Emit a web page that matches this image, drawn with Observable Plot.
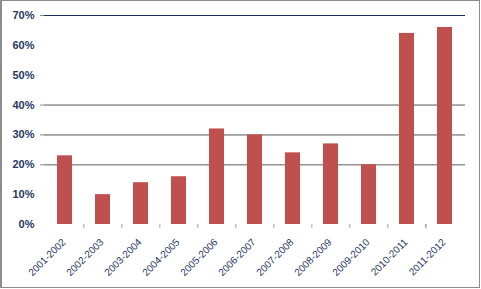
<!DOCTYPE html>
<html>
<head>
<meta charset="utf-8">
<script src="https://cdn.jsdelivr.net/npm/d3@7"></script>
<script src="https://cdn.jsdelivr.net/npm/@observablehq/plot@0.6"></script>
<style>
  html, body { margin: 0; padding: 0; background: #fff; }
  #wrap { position: relative; width: 481px; height: 289px; }
  #border { position: absolute; left: 0; top: 0; width: 480px; height: 288px; box-sizing: border-box; border: 1px solid #8c8c8c; border-left-width: 2px; pointer-events: none; }
  #chart g[aria-label^="y-axis"] text { font-weight: bold; }
</style>
</head>
<body>
<div id="wrap"><div id="chart"></div><div id="border"></div></div>
<script>
const categories = ["2001-2002","2002-2003","2003-2004","2004-2005","2005-2006","2006-2007","2007-2008","2008-2009","2009-2010","2010-2011","2011-2012"];
const values = [0.23, 0.10, 0.14, 0.16, 0.32, 0.30, 0.24, 0.27, 0.20, 0.64, 0.66];
const yTicks = [0, 0.1, 0.2, 0.3, 0.4, 0.5, 0.6, 0.7];
const grayGrid = [0.2, 0.3, 0.4];
const topGrid = [0.7];

const data = categories.map((c, i) => ({category: c, value: values[i]}));

const W = 481, H = 289, ML = 44, MR = 16, MT = 15, MB = 65;
const padInner = 0.6, padOuter = 0.3;
const step = (W - ML - MR) / (categories.length - padInner + 2 * padOuter);
const navy = "#1F3864";
const font = "Liberation Sans, Arial, sans-serif";

const chart = Plot.plot({
  width: W,
  height: H,
  marginLeft: ML,
  marginRight: MR,
  marginTop: MT,
  marginBottom: MB,
  style: {fontFamily: font, fontSize: "11px", color: navy, background: "#fff"},
  x: {domain: categories, paddingInner: padInner, paddingOuter: padOuter, label: null, axis: null},
  y: {domain: [0, 0.7], label: null, ticks: yTicks, tickFormat: d => Math.round(d * 100) + "%",
      tickSize: 0, tickPadding: 10},
  marks: [
    Plot.ruleY(grayGrid.concat(topGrid), {stroke: "#8c8c8c", strokeWidth: 1, insetLeft: -4}),
    Plot.ruleY(grayGrid, {stroke: "#8c8c8c", strokeWidth: 1}),
    Plot.ruleY(topGrid, {stroke: "#1A2B5E", strokeWidth: 1.2}),
    Plot.barY(data, {x: "category", y: "value", fill: "#C0504D"}),
    Plot.ruleX(categories.slice(1).concat([categories[categories.length-1]]), {
      x: d => d, y1: 0, y2: -0.014, stroke: "#a0a0a0", strokeWidth: 1,
      dx: -step / 2
    }),
    Plot.text(categories, {x: d => d, y: 0, text: d => d, rotate: -45, textAnchor: "end",
      fill: navy, fontSize: 10, dx: -1, dy: 16})
  ]
});
document.getElementById("chart").appendChild(chart);
</script>
</body>
</html>
